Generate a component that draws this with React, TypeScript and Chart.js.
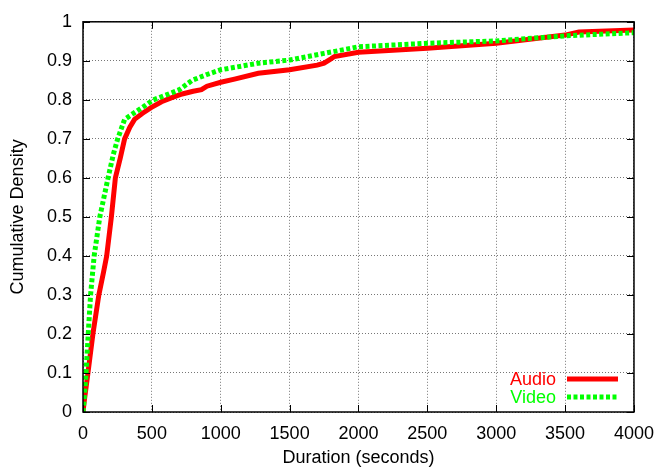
import React, { useEffect, useRef } from "react";
import { Chart, registerables } from "chart.js";

Chart.register(...registerables);

const audioX = [0, 10, 36, 72, 115, 150, 172, 206, 235, 270, 302, 340, 374, 430, 494, 570, 640, 720, 800, 860, 900, 1000, 1100, 1273, 1500, 1700, 1750, 1800, 1825, 2000, 2500, 3000, 3500, 3600, 4000];
const audioY = [0, 0.03, 0.1, 0.2, 0.3, 0.36, 0.4, 0.5, 0.6, 0.65, 0.7, 0.73, 0.75, 0.765, 0.78, 0.795, 0.805, 0.815, 0.822, 0.826, 0.835, 0.845, 0.853, 0.868, 0.877, 0.889, 0.894, 0.905, 0.911, 0.922, 0.932, 0.945, 0.966, 0.974, 0.979];

const videoX = [0, 8, 22, 38, 55, 81, 122, 182, 220, 252, 302, 386, 450, 510, 600, 700, 792, 900, 1000, 1273, 1500, 1750, 2000, 2500, 3000, 3500, 4000];
const videoY = [0, 0.03, 0.1, 0.2, 0.3, 0.4, 0.5, 0.6, 0.66, 0.7, 0.75, 0.77, 0.785, 0.8, 0.812, 0.826, 0.85, 0.865, 0.877, 0.894, 0.902, 0.919, 0.936, 0.945, 0.951, 0.964, 0.972];

const xTicksMax = 4000;
const xTickStep = 500;
const yTickStep = 0.1;

const seriesNames = ["Audio", "Video"];
const seriesColors = ["#ff0000", "#00ff00"];

const FONT = "'Liberation Sans', Arial, Helvetica, sans-serif";

const framePlugin = {
  id: "frame",
  afterDraw(chart: any) {
    const { ctx, chartArea: a, scales } = chart;
    const xs = scales.x;
    const ys = scales.y;
    ctx.save();
    ctx.strokeStyle = "#000";
    ctx.lineWidth = 1.5;
    ctx.setLineDash([]);
    ctx.strokeRect(a.left, a.top, a.right - a.left, a.bottom - a.top);
    ctx.lineWidth = 1;
    const tl = 7;
    ctx.beginPath();
    for (let v = 0; v <= xTicksMax; v += xTickStep) {
      const px = Math.round(xs.getPixelForValue(v)) + 0.5;
      ctx.moveTo(px, a.bottom);
      ctx.lineTo(px, a.bottom - tl);
      ctx.moveTo(px, a.top);
      ctx.lineTo(px, a.top + tl);
    }
    for (let i = 0; i <= 10; i++) {
      const py = Math.round(ys.getPixelForValue(i * yTickStep)) + 0.5;
      ctx.moveTo(a.left, py);
      ctx.lineTo(a.left + tl, py);
      ctx.moveTo(a.right, py);
      ctx.lineTo(a.right - tl, py);
    }
    ctx.stroke();

    ctx.font = `18px ${FONT}`;
    ctx.textAlign = "right";
    ctx.textBaseline = "middle";
    const rows = [379, 397];
    seriesNames.forEach((name, i) => {
      const y = rows[i];
      ctx.fillStyle = seriesColors[i];
      ctx.fillText(name, 556, y + 1);
      ctx.strokeStyle = seriesColors[i];
      ctx.lineWidth = 5;
      ctx.setLineDash(i === 1 ? [4, 2.5] : []);
      ctx.beginPath();
      ctx.moveTo(567, y);
      ctx.lineTo(618, y);
      ctx.stroke();
    });
    ctx.restore();
  },
};

export default function App() {
  const ref = useRef<HTMLCanvasElement | null>(null);
  useEffect(() => {
    if (!ref.current) return;
    const chart = new Chart(ref.current, {
      type: "line",
      data: {
        datasets: [
          {
            label: seriesNames[0],
            data: audioX.map((x, i) => ({ x, y: audioY[i] })),
            borderColor: seriesColors[0],
            borderWidth: 5,
            pointRadius: 0,
            tension: 0,
            fill: false,
            order: 1,
          },
          {
            label: seriesNames[1],
            data: videoX.map((x, i) => ({ x, y: videoY[i] })),
            borderColor: seriesColors[1],
            borderWidth: 5,
            borderDash: [4, 2.5],
            pointRadius: 0,
            tension: 0,
            fill: false,
            order: 0,
          },
        ],
      },
      options: {
        responsive: false,
        animation: false,
        layout: { padding: { top: 20, right: 25, left: 0, bottom: 0 } },
        plugins: { legend: { display: false }, tooltip: { enabled: false } },
        scales: {
          x: {
            type: "linear",
            min: 0,
            max: xTicksMax,
            border: { display: false, dash: [1, 2] },
            grid: {
              color: "#777",
              lineWidth: 1,
              drawTicks: false,
            },
            ticks: {
              stepSize: xTickStep,
              color: "#000",
              font: { family: FONT, size: 18 },
              padding: 11,
              maxRotation: 0,
              callback: (v: any) => String(Math.round(Number(v))),
            },
            title: {
              display: true,
              text: "Duration (seconds)",
              color: "#000",
              font: { family: FONT, size: 18 },
              padding: { top: 0, bottom: 0 },
            },
            afterFit: (s: any) => {
              s.height = 57;
            },
          } as any,
          y: {
            type: "linear",
            min: 0,
            max: 1,
            border: { display: false, dash: [1, 2] },
            grid: {
              color: "#777",
              lineWidth: 1,
              drawTicks: false,
            },
            ticks: {
              stepSize: yTickStep,
              color: "#000",
              font: { family: FONT, size: 18 },
              padding: 11,
              callback: (v: any) => {
                const n = Number(v);
                if (Math.abs(n) < 1e-9) return "0";
                if (Math.abs(n - 1) < 1e-9) return "1";
                return n.toFixed(1);
              },
            },
            title: {
              display: true,
              text: "Cumulative Density",
              color: "#000",
              font: { family: FONT, size: 18 },
              padding: { top: 7, bottom: 0 },
            },
            afterFit: (s: any) => {
              s.width = 83;
            },
          } as any,
        },
      },
      plugins: [framePlugin],
    });
    return () => chart.destroy();
  }, []);
  return (
    <div style={{ position: "fixed", left: 0, top: 0, width: 665, height: 469, background: "#fff" }}>
      <canvas ref={ref} width={665} height={469} style={{ display: "block" }} />
    </div>
  );
}
